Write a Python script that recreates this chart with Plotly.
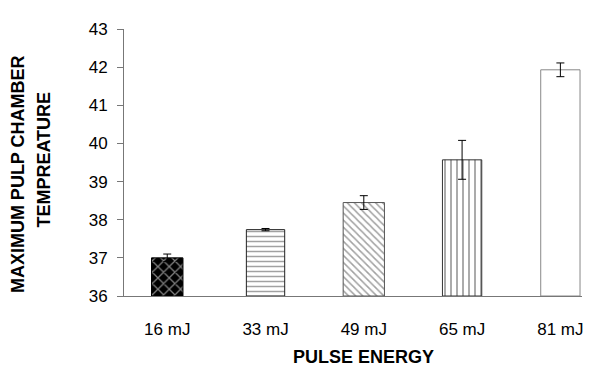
import plotly.graph_objects as go

categories = ["16 mJ", "33 mJ", "49 mJ", "65 mJ", "81 mJ"]
mean_temp = [37.00, 37.74, 38.45, 39.57, 41.93]
sd_temp = [0.10, 0.03, 0.18, 0.51, 0.18]
y_ticks = [36, 37, 38, 39, 40, 41, 42, 43]

pattern_shapes = ["x", "-", "\\", "|", ""]
pattern_fg = ["#9a9a9a", "black", "black", "black", "black"]
pattern_bg = ["black", "white", "white", "white", "white"]
bar_widths = [0.32, 0.39, 0.42, 0.40, 0.40]
outline_colors = ["black", "#222222", "#555555", "#333333", "#888888"]

FONT = "Liberation Sans, Arial, sans-serif"

fig = go.Figure()
fig.add_trace(go.Bar(
    x=categories,
    y=[m - 36 for m in mean_temp],
    base=36,
    width=bar_widths,
    marker=dict(
        color=pattern_bg,
        line=dict(color=outline_colors, width=1),
        pattern=dict(shape=pattern_shapes, fgcolor=pattern_fg, bgcolor=pattern_bg,
                     size=[8, 5, 5, 6, 8], solidity=[0.3, 0.3, 0.3, 0.3, 0.3]),
    ),
    error_y=dict(type="data", array=sd_temp, color="black", thickness=1, width=4, visible=True),
    showlegend=False,
))

# the page body has an 8px default margin, so margins are offset by 8px
fig.update_layout(
    width=607, height=366, autosize=False,
    margin=dict(l=116, r=33, t=12, b=78),
    paper_bgcolor="white", plot_bgcolor="white",
    font=dict(family=FONT, size=17, color="black"),
    xaxis=dict(
        type="category", range=[-0.44, 4.22],
        showline=True, linecolor="#777777", linewidth=1,
        ticks="", showgrid=False, zeroline=False,
        tickfont=dict(size=17), ticklabelstandoff=18,
    ),
    yaxis=dict(
        range=[36, 43], tickvals=y_ticks, ticktext=[str(v) for v in y_ticks],
        showline=True, linecolor="#777777", linewidth=1,
        ticks="outside", ticklen=6, tickcolor="#777777",
        showgrid=False, zeroline=False,
        tickfont=dict(size=17), ticklabelstandoff=6,
    ),
    annotations=[
        dict(text="<b>MAXIMUM PULP CHAMBER</b>", xref="paper", yref="paper",
             x=0, xshift=-106, y=0.4565, xanchor="center", yanchor="middle",
             textangle=-90, showarrow=False, borderpad=0,
             font=dict(size=18, family=FONT)),
        dict(text="<b>TEMPREATURE</b>", xref="paper", yref="paper",
             x=0, xshift=-80, y=0.511, xanchor="center", yanchor="middle",
             textangle=-90, showarrow=False, borderpad=0,
             font=dict(size=18, family=FONT)),
        dict(text="<b>PULSE ENERGY</b>", xref="paper", yref="paper",
             x=0.522, y=-0.228, xanchor="center", yanchor="middle",
             showarrow=False, font=dict(size=18, family=FONT)),
    ],
)

fig.write_html("out.html")
